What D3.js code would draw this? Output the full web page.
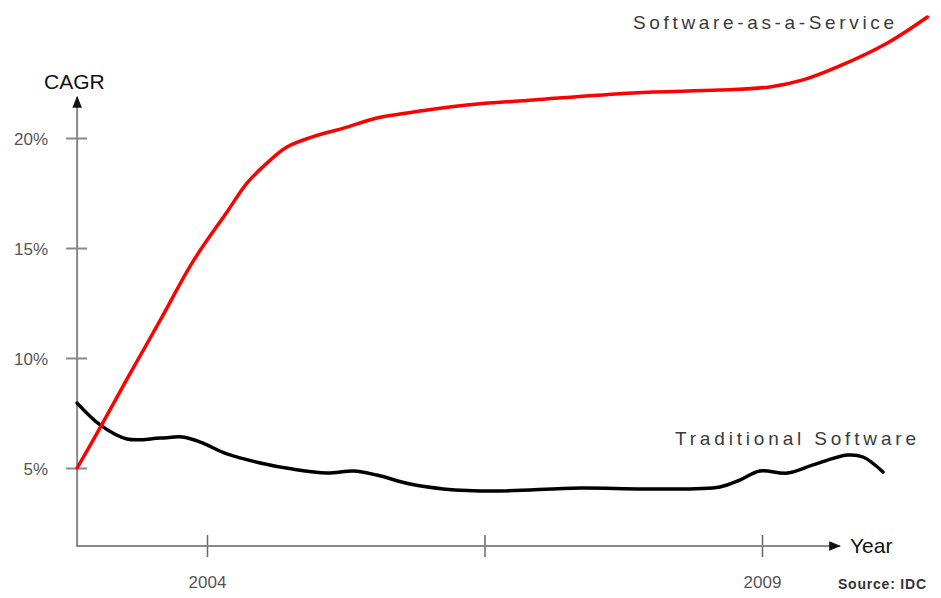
<html>
    <head>
        <meta charset="utf-8">
        <title>SaaS vs Traditional Software CAGR</title>
        <script type="text/javascript" src="https://d3js.org/d3.v7.min.js"></script>
        <style>
            body { margin: 0; background: #fff; }
            text { font-family: "Liberation Sans", Arial, sans-serif; }
        </style>
    </head>
    <body>
        <script type="text/javascript">
            // data (year, CAGR %)
            var saasYears = [2002.83, 2003.04, 2003.28, 2003.58, 2003.87, 2004.18, 2004.36, 2004.54, 2004.72, 2004.95,
                             2005.23, 2005.53, 2005.74, 2006.34, 2006.94, 2007.84, 2008.62, 2009.07, 2009.37, 2009.68,
                             2010.13, 2010.49];
            var saasValues = [5.0, 6.86, 9.05, 11.73, 14.36, 16.64, 17.95, 18.86, 19.59, 20.05,
                              20.45, 20.91, 21.09, 21.5, 21.73, 22.05, 22.18, 22.32, 22.64, 23.23,
                              24.32, 25.5];
            var tradYears = [2002.83, 2003.04, 2003.28, 2003.58, 2003.78, 2003.94, 2004.18, 2004.48, 2004.77, 2005.08,
                             2005.32, 2005.53, 2005.83, 2006.13, 2006.58, 2007.36, 2007.96, 2008.62, 2008.8, 2008.98,
                             2009.23, 2009.46, 2009.77, 2009.91, 2010.09];
            var tradValues = [7.95, 6.95, 6.32, 6.36, 6.41, 6.18, 5.64, 5.23, 4.95, 4.77,
                              4.86, 4.68, 4.27, 4.05, 3.95, 4.09, 4.05, 4.14, 4.45, 4.86,
                              4.77, 5.14, 5.59, 5.5, 4.82];
            var yTicks = [5, 10, 15, 20];
            var xTicks = [2004, 2006.5, 2009];
            var xTickLabels = {2004: "2004", 2009: "2009"};

            var w = 941;
            var h = 598;
            var svg = d3.select("body").append("svg").attr("width", w).attr("height", h);

            // scales
            var x = d3.scaleLinear().domain([2004, 2009]).range([207, 762]);
            var y = d3.scaleLinear().domain([0, 25]).range([578, 28]);
            var x0 = x(2002.83);
            var y0 = 546;

            // arrow heads
            var defs = svg.append("defs");
            defs.append("marker").attr("id", "arrow")
                .attr("viewBox", "0 0 10 10").attr("refX", 9).attr("refY", 5)
                .attr("markerWidth", 12).attr("markerHeight", 12)
                .attr("markerUnits", "userSpaceOnUse").attr("orient", "auto")
                .append("path").attr("d", "M0,1L10,5L0,9Z").attr("fill", "#111");

            // y axis
            var yAxis = svg.append("g").attr("transform", "translate(" + x0 + ",0)")
                .call(d3.axisLeft(y).tickValues(yTicks).tickFormat(function(d) { return d + "%"; }).tickSize(10));
            yAxis.select(".domain").remove();
            yAxis.selectAll(".tick line").attr("x1", 10).attr("x2", -11).attr("stroke", "#888").attr("stroke-width", 2);
            yAxis.selectAll(".tick text").attr("x", -29).attr("dy", "0.36em")
                .attr("font-size", 17).attr("fill", "#555")
                .style("font-family", "'Liberation Sans', Arial, sans-serif");

            // x axis
            var xAxis = svg.append("g").attr("transform", "translate(0," + y0 + ")")
                .call(d3.axisBottom(x).tickValues(xTicks).tickFormat(function(d) { return xTickLabels[d] || ""; }).tickSize(10));
            xAxis.select(".domain").remove();
            xAxis.selectAll(".tick line").attr("y1", -11).attr("y2", 11).attr("stroke", "#666").attr("stroke-width", 1.5);
            xAxis.selectAll(".tick text").attr("y", 42).attr("dy", 0)
                .attr("font-size", 17).attr("fill", "#555")
                .style("font-family", "'Liberation Sans', Arial, sans-serif");

            // axis lines with arrows
            svg.append("line").attr("x1", x0).attr("y1", y0 + 1).attr("x2", x0).attr("y2", 97)
                .attr("stroke", "#888").attr("stroke-width", 2).attr("marker-end", "url(#arrow)");
            svg.append("line").attr("x1", x0 - 1).attr("y1", y0).attr("x2", 840).attr("y2", y0)
                .attr("stroke", "#888").attr("stroke-width", 2).attr("marker-end", "url(#arrow)");

            // lines
            var line = d3.line()
                .x(function(d) { return x(d[0]); })
                .y(function(d) { return y(d[1]); })
                .curve(d3.curveCatmullRom.alpha(0.5));

            svg.append("path").datum(d3.zip(tradYears, tradValues))
                .attr("d", line).attr("fill", "none").attr("stroke", "#000").attr("stroke-width", 3.5)
                .attr("stroke-linecap", "round");
            svg.append("path").datum(d3.zip(saasYears, saasValues))
                .attr("d", line).attr("fill", "none").attr("stroke", "#f00").attr("stroke-width", 3.5)
                .attr("stroke-linecap", "round");

            // labels
            svg.append("text").attr("x", 44).attr("y", 89).attr("font-size", 21).attr("fill", "#111").text("CAGR");
            svg.append("text").attr("x", 850).attr("y", 553).attr("font-size", 21).attr("fill", "#111").text("Year");
            svg.append("text").attr("x", 838).attr("y", 589).attr("font-size", 14).attr("font-weight", "bold")
                .attr("fill", "#333").attr("textLength", 88).attr("lengthAdjust", "spacing").text("Source: IDC");
            svg.append("text").attr("x", 633).attr("y", 29).attr("font-size", 19).attr("fill", "#3a3a3a")
                .attr("textLength", 261).attr("lengthAdjust", "spacing").text("Software-as-a-Service");
            svg.append("text").attr("x", 675).attr("y", 445).attr("font-size", 19).attr("fill", "#3a3a3a")
                .attr("textLength", 241).attr("lengthAdjust", "spacing").text("Traditional Software");
        </script>
    </body>
</html>
